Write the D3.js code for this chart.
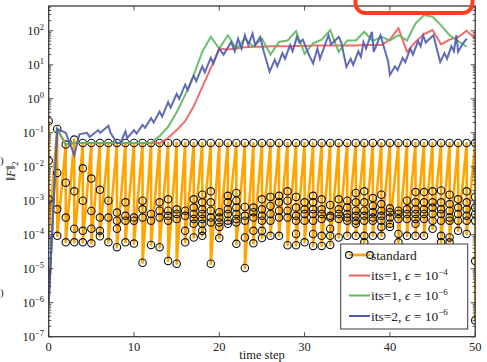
<!DOCTYPE html>
<html>
<head>
<meta charset="utf-8">
<script src="https://cdn.jsdelivr.net/npm/d3@7"></script>
<style>
  body { margin: 0; background: #fff; }
  text { font-family: "Liberation Serif", "DejaVu Serif", serif; fill: #222; }
</style>
</head>
<body>
<script>
// time steps 0..50, standard Newton: residuals of every iterate within a step
const stdSteps = [
  [2.2e-1, 1.5e-2, 1.1e-3, 1e-4],
  [1.3e-1, 6.6e-3, 5.6e-4, 9.3e-5],
  [4.5e-2, 3.4e-3, 3.2e-4, 6e-5],
  [6.3e-2, 1.9e-3, 1.5e-4, 6e-5],
  [5e-2, 9e-3, 1e-3, 1.3e-4, 6e-5],
  [5e-2, 4.5e-3, 5e-4, 1.5e-4, 5.6e-5],
  [5e-2, 2.1e-3, 3.2e-4, 1.3e-4, 9e-5],
  [5e-2, 1e-3, 3.2e-4, 6e-5],
  [5e-2, 4.5e-4, 2.6e-4, 1.5e-4, 4.3e-5],
  [5e-2, 9e-4, 3.6e-4, 2.6e-4, 6e-5],
  [5e-2, 3.2e-4, 2.6e-4, 5.5e-5],
  [5e-2, 1e-3, 5.6e-4, 3.2e-4, 1.5e-5],
  [5e-2, 4.1e-4, 2.6e-4, 5e-5],
  [5e-2, 9e-4, 5.1e-4, 3.2e-4, 4.3e-5],
  [5e-2, 1.1e-3, 5.1e-4, 3.6e-4, 2.6e-4, 1.7e-5],
  [5e-2, 5.6e-4, 4.1e-4, 2.9e-4, 1.4e-5],
  [5e-2, 5.1e-4, 3.6e-4, 1.3e-4, 6e-5],
  [5e-2, 1.1e-3, 6.3e-4, 4.1e-4, 2.9e-4, 2.1e-4, 8.3e-5],
  [5e-2, 1.5e-3, 9e-4, 5.6e-4, 4.1e-4, 2.9e-4, 2.1e-4, 1.3e-4, 9.3e-5],
  [5e-2, 1.9e-3, 9e-4, 5.1e-4, 3.2e-4, 2.3e-4, 1.4e-5],
  [5e-2, 4.6e-4, 3.2e-4, 2.3e-4, 1.7e-4, 8e-5],
  [5e-2, 1.4e-3, 9e-4, 5.6e-4, 4.1e-4, 2.6e-4, 2.1e-4],
  [5e-2, 1.7e-3, 1e-3, 6.3e-4, 4.1e-4, 2.9e-4, 2.3e-4, 5.4e-5],
  [5e-2, 6.6e-4, 3.6e-4, 2.6e-4, 8.3e-5, 1.05e-5],
  [5e-2, 6.3e-4, 4.6e-4, 3.2e-4, 1.3e-4, 5.6e-5],
  [5e-2, 1.1e-3, 5.6e-4, 3.6e-4, 2.6e-4, 1.3e-4, 8e-5],
  [5e-2, 1.3e-3, 7e-4, 4.1e-4, 2.6e-4, 9.3e-5],
  [5e-2, 1.4e-3, 9e-4, 5.1e-4, 3.2e-4, 9.3e-5],
  [5e-2, 1.9e-3, 1e-3, 5.1e-4, 3.2e-4, 4.9e-5],
  [5e-2, 1.3e-3, 6.3e-4, 3.6e-4, 2.6e-4, 1.05e-4, 4.9e-5],
  [5e-2, 9e-4, 5.6e-4, 4.1e-4, 2.6e-4, 6e-5],
  [5e-2, 1.4e-3, 9e-4, 5.6e-4, 4.1e-4, 2.6e-4, 1.05e-4, 4.7e-5],
  [5e-2, 1.1e-3, 5.6e-4, 4.1e-4, 2.9e-4, 9.3e-5, 4.7e-5],
  [5e-2, 7.5e-4, 3.6e-4, 3.2e-4, 1.5e-4, 9.3e-5, 5e-5],
  [5e-2, 1.1e-3, 5.6e-4, 4.1e-4, 2.9e-4, 8.3e-5],
  [5e-2, 1e-3, 6.3e-4, 4.1e-4, 3.2e-4, 2.6e-4, 9.3e-5],
  [5e-2, 1.7e-3, 9e-4, 5.1e-4, 3.6e-4, 2.6e-4, 2.1e-4, 9.3e-5],
  [5e-2, 1.9e-3, 9e-4, 5.1e-4, 3.6e-4, 2.6e-4, 9.3e-5, 6e-5],
  [5e-2, 1.2e-3, 7e-4, 4.6e-4, 3.2e-4, 2.6e-4, 9.3e-5],
  [5e-2, 1.5e-3, 8e-4, 5.1e-4, 3.6e-4, 2.6e-4, 1.7e-4, 9.3e-5],
  [5e-2, 6e-4, 4.6e-4, 3.2e-4, 2.1e-4, 1.7e-4],
  [5e-2, 5.1e-4, 4.1e-4, 2.9e-4, 1.05e-4, 6e-5],
  [5e-2, 1e-3, 5.6e-4, 4.1e-4, 2.9e-4, 9.3e-5],
  [5e-2, 1.8e-3, 9e-4, 5.6e-4, 4.1e-4, 2.9e-4, 2.1e-4, 9.3e-5],
  [5e-2, 1.8e-3, 9e-4, 5.6e-4, 4.1e-4, 2.9e-4, 9.3e-5],
  [5e-2, 1.9e-3, 9e-4, 6.3e-4, 4.1e-4, 2.6e-4, 1.5e-4],
  [5e-2, 2e-3, 9e-4, 5.6e-4, 4.1e-4, 2.6e-4, 9.3e-5, 6e-5],
  [5e-2, 1.5e-3, 8e-4, 5.1e-4, 3.2e-4, 2.6e-4, 8.3e-5, 6e-5],
  [5e-2, 1.1e-3, 6.3e-4, 4.1e-4, 2.6e-4, 1.3e-4],
  [5e-2, 1.9e-3, 9e-4, 5.6e-4, 3.6e-4, 2.6e-4, 1.05e-4],
  [5e-2, 1.3e-3, 6.3e-4, 4.1e-4, 2.6e-4, 1.7e-5, 3e-7]
];

// its=1, eps=1e-4 (one value per time step)
const redVals = [1e-6, 0.13, 0.045, 0.05, 0.05, 0.05, 0.05, 0.05, 0.05, 0.05, 0.05,
  0.05, 0.05, 0.05, 0.07, 0.12, 0.22, 0.6, 2.2, 8, 30,
  28, 30, 33, 34, 34, 35, 35, 35, 36, 36,
  37, 37, 37, 37, 37, 37, 38, 38, 38, 55,
  120, 24, 47, 80, 105, 40, 55, 65, 100, 59];

// its=1, eps=1e-6
const greenVals = [1e-6, 0.13, 0.045, 0.05, 0.05, 0.05, 0.05, 0.05, 0.05, 0.05, 0.05,
  0.05, 0.05, 0.08, 0.15, 0.4, 1.3, 5, 24, 66, 30,
  74, 30, 59, 34, 59, 20, 47, 52, 98, 21,
  43, 55, 105, 24, 52, 52, 94, 50, 66, 52,
  74, 52, 163, 290, 260, 145, 74, 50, 34];

// its=2, eps=1e-6: [time, residual] incl. the intermediate iterate
const blueT = [0, 1, 2, 3, 3.6, 4.5, 4.8, 5.8, 6.05, 7, 7.25, 8, 8.4, 9, 9.2, 10, 10.3,
  11, 11.3, 12, 12.3, 13, 13.3, 14, 14.3, 15, 15.3, 16, 16.3, 17, 17.3, 18, 18.3,
  19, 19.3, 20, 20.5, 21.4, 21.8, 22.2, 22.6, 23, 23.4, 23.9, 24.2, 24.8, 25.2, 25.9,
  26.5, 26.8, 27.4, 27.7, 28.3, 28.6, 29.1, 29.4, 29.8, 30.1, 30.5, 31, 31.5, 31.8,
  32.8, 33.1, 34, 34.3, 34.9, 35.4, 35.7, 36.3, 36.6, 36.9, 37.2, 37.9, 38.1, 38.9,
  39.2, 39.8, 40, 40.6, 40.9, 41.5, 41.8, 42.4, 42.7, 43.3, 43.6, 43.9, 44.2, 45.1,
  45.9, 46.4, 46.7, 47.2, 47.5, 47.8, 48, 48.5, 49];
const blueVals = [1e-6, 0.13, 0.1, 0.022, 0.09, 0.1, 0.075, 0.12, 0.1, 0.16, 0.1, 0.05, 0.05, 0.11, 0.07, 0.12, 0.095,
  0.17, 0.14, 0.27, 0.2, 0.42, 0.3, 0.8, 0.55, 1.4, 1, 2.6, 1.8, 4.8, 3.3, 9, 6,
  16, 11, 30, 20, 47, 25, 59, 30, 74, 38, 83, 38, 66, 25, 6.3,
  14, 9, 22, 15, 38, 25, 66, 45, 55, 35, 20, 11, 30, 15,
  74, 40, 66, 45, 8.7, 15, 10, 25, 17, 47, 30, 94, 24, 74,
  40, 12.3, 5, 9, 7, 16, 12, 30, 20, 50, 35, 74, 45, 74,
  12, 22, 15, 35, 25, 74, 24, 40, 59];

const xTicks = [0, 10, 20, 30, 40, 50];
const yExps = [-7, -6, -5, -4, -3, -2, -1, 0, 1, 2];
const legendLabels = ["standard", "its=1, ", "its=1, ", "its=2, "];
const legendExps = [null, "\u22124", "\u22126", "\u22126"];

const colStd = "#ffa500", colRed = "#f25c5c", colGreen = "#5cb85c", colBlue = "#4f5bb0";

const W = 487, H = 362;
const pLeft = 48.7, pRight = 475.2, pTop = 6, pBottom = 336.7;

const svg = d3.select("body").append("svg")
  .attr("width", W).attr("height", H);

const x = d3.scaleLinear().domain([0, 50]).range([pLeft, pRight]);
const y = d3.scaleLog().domain([1e-7, Math.pow(10, 2.73)]).range([pBottom, pTop]);

svg.append("clipPath").attr("id", "plot")
  .append("rect").attr("x", pLeft).attr("y", pTop)
  .attr("width", pRight - pLeft).attr("height", pBottom - pTop);

const g = svg.append("g").attr("clip-path", "url(#plot)");

// standard: flatten iterates
const stdPts = [];
stdSteps.forEach((arr, t) => arr.forEach(v => stdPts.push([t, v])));

const line = d3.line().x(d => x(d[0])).y(d => y(d[1]));

g.append("path").datum(stdPts)
  .attr("d", line).attr("fill", "none")
  .attr("stroke", colStd).attr("stroke-width", 2.6).attr("stroke-linejoin", "round");

g.selectAll("circle.std").data(stdPts).enter().append("circle")
  .attr("class", "std")
  .attr("cx", d => x(d[0])).attr("cy", d => y(d[1])).attr("r", 3.7)
  .attr("fill", "none").attr("stroke", "#111").attr("stroke-width", 1.1);

const redPts = redVals.map((v, i) => [i, v]);
const greenPts = greenVals.map((v, i) => [i, v]);
const bluePts = blueVals.map((v, i) => [blueT[i], v]);

[[redPts, colRed], [greenPts, colGreen], [bluePts, colBlue]].forEach(([pts, c]) => {
  g.append("path").datum(pts)
    .attr("d", line).attr("fill", "none")
    .attr("stroke", c).attr("stroke-width", 2).attr("stroke-opacity", 0.9)
    .attr("stroke-linejoin", "miter");
});

// frame
svg.append("rect").attr("x", pLeft).attr("y", pTop)
  .attr("width", pRight - pLeft).attr("height", pBottom - pTop)
  .attr("fill", "none").attr("stroke", "#3a3a3a").attr("stroke-width", 1.3);

// ticks
const tk = svg.append("g").attr("stroke", "#3a3a3a").attr("stroke-width", 0.9);
xTicks.forEach(t => {
  tk.append("line").attr("x1", x(t)).attr("x2", x(t)).attr("y1", pBottom).attr("y2", pBottom - 4.5);
  tk.append("line").attr("x1", x(t)).attr("x2", x(t)).attr("y1", pTop).attr("y2", pTop + 4.5);
});
const minors = [];
for (let e = -7; e <= 2; e++) for (let m = 2; m <= 9; m++) {
  const v = m * Math.pow(10, e);
  if (v < y.domain()[1]) minors.push(v);
}
yExps.forEach(e => {
  const yy = y(Math.pow(10, e));
  tk.append("line").attr("x1", pLeft).attr("x2", pLeft + 4.5).attr("y1", yy).attr("y2", yy);
  tk.append("line").attr("x1", pRight).attr("x2", pRight - 4.5).attr("y1", yy).attr("y2", yy);
});
minors.forEach(v => {
  const yy = y(v);
  tk.append("line").attr("x1", pLeft).attr("x2", pLeft + 2.5).attr("y1", yy).attr("y2", yy);
  tk.append("line").attr("x1", pRight).attr("x2", pRight - 2.5).attr("y1", yy).attr("y2", yy);
});

// tick labels
svg.selectAll("text.xt").data(xTicks).enter().append("text")
  .attr("x", d => x(d)).attr("y", 351).attr("text-anchor", "middle")
  .attr("font-size", 12.5).text(d => d);

yExps.forEach(e => {
  const t = svg.append("text").attr("x", 44).attr("y", y(Math.pow(10, e)) + 4.5)
    .attr("text-anchor", "end").attr("font-size", 12.5);
  t.append("tspan").text("10");
  t.append("tspan").attr("dy", -5).attr("font-size", 8.5)
    .text(e < 0 ? "\u2212" + (-e) : String(e));
});

svg.append("text").attr("x", 262).attr("y", 359).attr("text-anchor", "middle")
  .attr("font-size", 12.5).text("time step");

const yl = svg.append("text").attr("transform", "translate(15,171) rotate(-90)")
  .attr("text-anchor", "middle").attr("font-size", 12.5);
yl.append("tspan").text("\u2016");
yl.append("tspan").attr("font-style", "italic").text("F");
yl.append("tspan").text("\u2016");
yl.append("tspan").attr("dy", 3).attr("font-size", 8.5).text("2");

// fragments of neighbouring text at the left edge
svg.append("text").attr("x", 0).attr("y", 164).attr("font-size", 11).text(")");
svg.append("text").attr("x", 0).attr("y", 296).attr("font-size", 11).text(")");

// legend
const lg = svg.append("g");
lg.append("rect").attr("x", 340.7).attr("y", 244).attr("width", 127).attr("height", 85)
  .attr("fill", "#fff").attr("stroke", "#3a3a3a").attr("stroke-width", 1);
const lcols = [colStd, colRed, colGreen, colBlue];
const rowY = [255, 275.5, 295.5, 316];
lcols.forEach((c, i) => {
  lg.append("line").attr("x1", 349).attr("x2", 370).attr("y1", rowY[i]).attr("y2", rowY[i])
    .attr("stroke", c).attr("stroke-width", i === 0 ? 2.6 : 2);
  if (i === 0) {
    [349, 370].forEach(cx => lg.append("circle").attr("cx", cx).attr("cy", rowY[i]).attr("r", 3.4)
      .attr("fill", "none").attr("stroke", "#111").attr("stroke-width", 1.1));
  }
  const t = lg.append("text").attr("x", 371).attr("y", rowY[i] + 4.5).attr("font-size", 13.5);
  t.append("tspan").text(legendLabels[i]);
  if (legendExps[i]) {
    t.append("tspan").attr("font-style", "italic").text("\u03f5");
    t.append("tspan").text(" = 10");
    t.append("tspan").attr("dy", -5.5).attr("font-size", 9).text(legendExps[i]);
  }
});

// red highlight box, partly outside the picture
svg.append("rect").attr("x", 355.5).attr("y", -30).attr("width", 117).attr("height", 43)
  .attr("rx", 10).attr("fill", "none").attr("stroke", "#ff3d1f").attr("stroke-width", 4);
</script>
</body>
</html>
